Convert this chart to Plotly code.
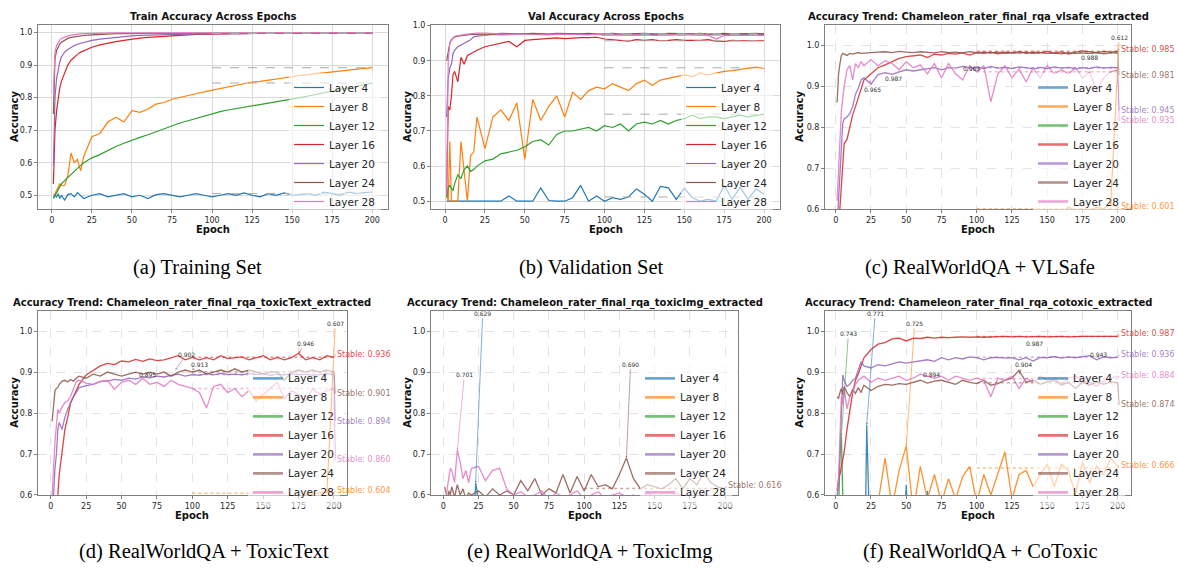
import plotly.graph_objects as go

W, H = 1178, 569

# ---------------- data ----------------
EPOCHS = [1, 2, 3, 4, 5, 6, 8, 10, 12, 14, 16, 18, 20,
          25, 30, 35, 40, 45, 50, 55, 60, 65, 70, 75, 80,
          85, 90, 95, 100, 105, 110, 115, 120, 125, 130, 135, 140,
          145, 150, 155, 160, 165, 170, 175, 180, 185, 190, 195, 200]
SPARSE_EPOCHS = [1, 50, 100, 150, 200]

LAYERS = ["Layer 4", "Layer 8", "Layer 12", "Layer 16", "Layer 20", "Layer 24", "Layer 28"]
COLORS = ["#1f77b4", "#ff7f0e", "#2ca02c", "#d62728", "#9467bd", "#8c564b", "#e377c2"]
X_TICKS = [0, 25, 50, 75, 100, 125, 150, 175, 200]

# (a) training accuracy
TRAIN_L4 = [0.492, 0.500, 0.495, 0.505, 0.490, 0.500, 0.485, 0.502, 0.505, 0.495, 0.508, 0.498, 0.490,
            0.500, 0.505, 0.495, 0.500, 0.505, 0.495,
            0.500, 0.490, 0.502, 0.505, 0.500, 0.495,
            0.500, 0.505, 0.500, 0.495, 0.500, 0.505,
            0.500, 0.507, 0.500, 0.495, 0.505, 0.500,
            0.507, 0.500, 0.502, 0.505, 0.500, 0.510,
            0.505, 0.500, 0.510, 0.505, 0.508, 0.510]
TRAIN_L8 = [0.500, 0.505, 0.515, 0.525, 0.535, 0.530, 0.530, 0.560, 0.630, 0.600, 0.610, 0.575, 0.620,
            0.680, 0.690, 0.725, 0.740, 0.725, 0.760,
            0.755, 0.765, 0.780, 0.785, 0.795, 0.800,
            0.805, 0.812, 0.818, 0.823, 0.828, 0.833,
            0.838, 0.843, 0.848, 0.850, 0.854, 0.858,
            0.861, 0.865, 0.868, 0.871, 0.874, 0.877,
            0.880, 0.883, 0.886, 0.888, 0.890, 0.892]
TRAIN_L12 = [0.490, 0.500, 0.510, 0.520, 0.528, 0.535, 0.545, 0.555, 0.565, 0.575, 0.585, 0.592, 0.600,
             0.615, 0.625, 0.638, 0.650, 0.660, 0.670,
             0.678, 0.686, 0.695, 0.705, 0.714, 0.722,
             0.729, 0.736, 0.743, 0.752, 0.757, 0.762,
             0.766, 0.770, 0.774, 0.778, 0.782, 0.786,
             0.790, 0.795, 0.800, 0.805, 0.810, 0.815,
             0.820, 0.826, 0.831, 0.836, 0.840, 0.845]
TRAIN_L16 = [0.535, 0.700, 0.760, 0.800, 0.830, 0.850, 0.875, 0.900, 0.915, 0.925, 0.933, 0.940, 0.945,
             0.955, 0.962, 0.968, 0.972, 0.976, 0.980,
             0.983, 0.985, 0.987, 0.989, 0.990, 0.992,
             0.993, 0.994, 0.995, 0.996, 0.996, 0.997,
             0.997, 0.997, 0.997, 0.998, 0.998, 0.998,
             0.998, 0.998, 0.998, 0.998, 0.998, 0.998,
             0.998, 0.998, 0.998, 0.998, 0.998, 0.998]
TRAIN_L20 = [0.590, 0.800, 0.860, 0.890, 0.910, 0.925, 0.940, 0.948, 0.955, 0.960, 0.964, 0.967, 0.970,
             0.976, 0.980, 0.983, 0.986, 0.988, 0.990,
             0.991, 0.992, 0.993, 0.994, 0.995, 0.995,
             0.996, 0.996, 0.996, 0.997, 0.997, 0.997,
             0.997, 0.998, 0.998, 0.998, 0.998, 0.998,
             0.998, 0.998, 0.998, 0.998, 0.998, 0.998,
             0.998, 0.998, 0.998, 0.998, 0.998, 0.998]
TRAIN_L24 = [0.750, 0.920, 0.945, 0.958, 0.965, 0.970, 0.977, 0.982, 0.985, 0.987, 0.989, 0.990, 0.991,
             0.993, 0.995, 0.996, 0.997, 0.997, 0.997,
             0.998, 0.998, 0.998, 0.998, 0.998, 0.998,
             0.998, 0.998, 0.998, 0.998, 0.998, 0.998,
             0.998, 0.998, 0.998, 0.998, 0.998, 0.998,
             0.998, 0.998, 0.998, 0.998, 0.998, 0.998,
             0.998, 0.998, 0.998, 0.998, 0.998, 0.998]
TRAIN_L28 = [0.815, 0.940, 0.960, 0.970, 0.977, 0.982, 0.987, 0.990, 0.992, 0.994, 0.995, 0.996, 0.997,
             0.998, 0.998, 0.999, 0.999, 0.999, 0.999,
             0.999, 0.999, 0.999, 0.999, 0.999, 0.999,
             0.999, 0.999, 0.999, 0.999, 0.999, 0.999,
             0.999, 0.999, 0.999, 0.999, 0.999, 0.999,
             0.999, 0.999, 0.999, 0.999, 0.999, 0.999,
             0.999, 0.999, 0.999, 0.999, 0.999, 0.999]
TRAIN_STABLE = [0.505, 0.892, 0.845, 0.998, 0.998, 0.998, 0.999]

# (b) validation accuracy
VAL_L4 = [0.500, 0.500, 0.500, 0.500, 0.500, 0.500, 0.500, 0.500, 0.500, 0.500, 0.500, 0.500, 0.500,
          0.500, 0.500, 0.500, 0.515, 0.500, 0.500,
          0.500, 0.538, 0.502, 0.500, 0.500, 0.510,
          0.545, 0.500, 0.515, 0.500, 0.510, 0.505,
          0.512, 0.535, 0.520, 0.500, 0.542, 0.538,
          0.505, 0.537, 0.510, 0.500, 0.505, 0.500,
          0.545, 0.505, 0.540, 0.505, 0.535, 0.520]
VAL_L8 = [0.520, 0.500, 0.670, 0.500, 0.500, 0.500, 0.500, 0.670, 0.580, 0.500, 0.630, 0.640, 0.740,
          0.650, 0.740, 0.760, 0.730, 0.780, 0.620,
          0.790, 0.730, 0.770, 0.800, 0.740, 0.810,
          0.790, 0.815, 0.825, 0.820, 0.835, 0.825,
          0.815, 0.835, 0.845, 0.830, 0.845, 0.850,
          0.855, 0.860, 0.855, 0.865, 0.860, 0.865,
          0.870, 0.872, 0.875, 0.878, 0.882, 0.878]
VAL_L12 = [0.510, 0.540, 0.545, 0.535, 0.530, 0.550, 0.575, 0.565, 0.590, 0.600, 0.585, 0.590, 0.600,
           0.615, 0.620, 0.635, 0.640, 0.645, 0.655,
           0.670, 0.675, 0.660, 0.690, 0.700, 0.700,
           0.705, 0.710, 0.700, 0.715, 0.710, 0.720,
           0.700, 0.720, 0.725, 0.720, 0.730, 0.720,
           0.730, 0.735, 0.745, 0.735, 0.740, 0.740,
           0.735, 0.740, 0.745, 0.740, 0.745, 0.748]
VAL_L16 = [0.520, 0.770, 0.760, 0.800, 0.860, 0.870, 0.840, 0.910, 0.890, 0.915, 0.920, 0.925, 0.930,
           0.940, 0.945, 0.950, 0.955, 0.940, 0.958,
           0.960, 0.962, 0.963, 0.965, 0.963, 0.965,
           0.966, 0.966, 0.967, 0.962, 0.960, 0.958,
           0.956, 0.960, 0.958, 0.960, 0.957, 0.958,
           0.960, 0.958, 0.957, 0.958, 0.960, 0.956,
           0.955, 0.958, 0.957, 0.958, 0.957, 0.957]
VAL_L20 = [0.740, 0.850, 0.880, 0.890, 0.920, 0.930, 0.940, 0.945, 0.950, 0.955, 0.960, 0.968, 0.970,
           0.972, 0.975, 0.974, 0.975, 0.974, 0.975,
           0.976, 0.975, 0.976, 0.975, 0.976, 0.975,
           0.976, 0.975, 0.976, 0.974, 0.975, 0.974,
           0.975, 0.974, 0.975, 0.974, 0.975, 0.974,
           0.975, 0.974, 0.975, 0.974, 0.975, 0.976,
           0.975, 0.974, 0.976, 0.975, 0.974, 0.975]
VAL_L24 = [0.900, 0.930, 0.950, 0.960, 0.965, 0.968, 0.970, 0.972, 0.972, 0.974, 0.975, 0.975, 0.976,
           0.977, 0.976, 0.978, 0.977, 0.976, 0.977,
           0.978, 0.977, 0.976, 0.978, 0.977, 0.976,
           0.977, 0.978, 0.976, 0.977, 0.978, 0.976,
           0.977, 0.976, 0.978, 0.977, 0.976, 0.978,
           0.977, 0.976, 0.977, 0.978, 0.976, 0.977,
           0.978, 0.976, 0.977, 0.976, 0.978, 0.977]
VAL_L28 = [0.520, 0.900, 0.950, 0.960, 0.965, 0.970, 0.972, 0.974, 0.975, 0.976, 0.977, 0.978, 0.979,
           0.979, 0.977, 0.976, 0.975, 0.976, 0.975,
           0.976, 0.975, 0.974, 0.976, 0.975, 0.974,
           0.975, 0.974, 0.976, 0.973, 0.974, 0.973,
           0.974, 0.973, 0.974, 0.972, 0.973, 0.974,
           0.974, 0.975, 0.974, 0.974, 0.973, 0.962,
           0.972, 0.972, 0.973, 0.972, 0.973, 0.972]
VAL_STABLE = [0.512, 0.880, 0.748, 0.957, 0.975, 0.977, 0.973]

# (c) RealWorldQA + VLSafe
VLSAFE_L4 = [0.500, 0.510, 0.505, 0.515, 0.510]
VLSAFE_L12 = [0.500, 0.520, 0.530, 0.525, 0.530]
VLSAFE_L8 = [0.500, 0.500, 0.510, 0.500, 0.520, 0.510, 0.520, 0.530, 0.520, 0.530, 0.540, 0.530, 0.540,
             0.540, 0.550, 0.540, 0.550, 0.560, 0.550,
             0.560, 0.550, 0.560, 0.570, 0.560, 0.570,
             0.570, 0.580, 0.570, 0.580, 0.580, 0.570,
             0.580, 0.590, 0.580, 0.590, 0.580, 0.590,
             0.590, 0.590, 0.595, 0.590, 0.605, 0.595,
             0.600, 0.595, 0.605, 0.600, 0.612, 0.605]
VLSAFE_L16 = [0.500, 0.550, 0.617, 0.660, 0.720, 0.760, 0.770, 0.800, 0.830, 0.850, 0.870, 0.890, 0.915,
              0.930, 0.945, 0.952, 0.960, 0.968, 0.972,
              0.974, 0.976, 0.970, 0.978, 0.976, 0.980,
              0.978, 0.981, 0.976, 0.982, 0.980, 0.983,
              0.979, 0.983, 0.981, 0.984, 0.980, 0.983,
              0.982, 0.985, 0.980, 0.984, 0.978, 0.983,
              0.986, 0.984, 0.982, 0.985, 0.983, 0.985]
VLSAFE_L20 = [0.560, 0.620, 0.700, 0.760, 0.810, 0.820, 0.825, 0.833, 0.850, 0.880, 0.895, 0.915, 0.920,
              0.905, 0.928, 0.933, 0.929, 0.935, 0.940,
              0.937, 0.940, 0.942, 0.945, 0.940, 0.945,
              0.944, 0.948, 0.945, 0.946, 0.943, 0.948,
              0.944, 0.946, 0.943, 0.947, 0.945, 0.942,
              0.946, 0.943, 0.947, 0.944, 0.946, 0.942,
              0.945, 0.943, 0.947, 0.944, 0.946, 0.945]
VLSAFE_L24 = [0.860, 0.930, 0.955, 0.975, 0.980, 0.978, 0.975, 0.980, 0.978, 0.980, 0.982, 0.980, 0.981,
              0.982, 0.983, 0.984, 0.982, 0.985, 0.983,
              0.982, 0.984, 0.983, 0.981, 0.984, 0.982,
              0.983, 0.981, 0.984, 0.982, 0.983, 0.981,
              0.983, 0.980, 0.982, 0.981, 0.983, 0.980,
              0.982, 0.980, 0.981, 0.979, 0.982, 0.980,
              0.981, 0.980, 0.982, 0.979, 0.981, 0.981]
VLSAFE_L28 = [0.620, 0.700, 0.770, 0.840, 0.870, 0.900, 0.940, 0.950, 0.915, 0.955, 0.945, 0.960, 0.950,
              0.965, 0.950, 0.962, 0.955, 0.940, 0.960,
              0.945, 0.952, 0.930, 0.955, 0.920, 0.955,
              0.930, 0.915, 0.950, 0.935, 0.950, 0.862,
              0.930, 0.950, 0.920, 0.942, 0.910, 0.945,
              0.920, 0.950, 0.930, 0.940, 0.930, 0.945,
              0.920, 0.935, 0.890, 0.920, 0.935, 0.940]
VLSAFE_STABLE = [None, 0.601, None, 0.985, 0.945, 0.981, 0.935]
VLSAFE_LABEL_Y = [None, 0.606, None, 0.990, 0.840, 0.927, 0.815]
VLSAFE_PEAKS = [("0.965", 26, 0.892, 24, 0.915, 6), ("0.987", 41, 0.919, 38, 0.930, 4),
                ("0.963", 96, 0.944, 93, 0.950, 4), ("0.988", 180, 0.970, 178, 0.982, 3),
                ("0.612", 201, 1.019, 195, 0.612, 1)]

# (d) RealWorldQA + ToxicText
TOXTEXT_L4 = [0.500, 0.505, 0.510, 0.505, 0.510]
TOXTEXT_L12 = [0.500, 0.515, 0.520, 0.525, 0.520]
TOXTEXT_L8 = [0.500, 0.500, 0.510, 0.520, 0.510, 0.520, 0.530, 0.520, 0.530, 0.540, 0.530, 0.540, 0.550,
              0.550, 0.560, 0.550, 0.560, 0.570, 0.560,
              0.570, 0.560, 0.570, 0.580, 0.570, 0.580,
              0.580, 0.570, 0.580, 0.590, 0.580, 0.590,
              0.580, 0.590, 0.590, 0.580, 0.590, 0.590,
              0.590, 0.595, 0.590, 0.595, 0.590, 0.595,
              0.595, 0.600, 0.603, 0.605, 0.607, 0.604]
TOXTEXT_L16 = [0.500, 0.520, 0.550, 0.580, 0.600, 0.650, 0.713, 0.760, 0.790, 0.825, 0.840, 0.855, 0.870,
               0.893, 0.905, 0.915, 0.921, 0.918, 0.927,
               0.925, 0.931, 0.926, 0.932, 0.928, 0.930,
               0.935, 0.940, 0.930, 0.936, 0.930, 0.935,
               0.930, 0.940, 0.933, 0.935, 0.937, 0.930,
               0.935, 0.940, 0.930, 0.936, 0.930, 0.935,
               0.946, 0.930, 0.935, 0.930, 0.940, 0.936]
TOXTEXT_L20 = [0.560, 0.600, 0.665, 0.700, 0.760, 0.777, 0.760, 0.790, 0.809, 0.825, 0.840, 0.850, 0.862,
               0.867, 0.870, 0.877, 0.878, 0.882, 0.880,
               0.885, 0.883, 0.888, 0.886, 0.890, 0.888,
               0.892, 0.895, 0.890, 0.894, 0.892, 0.896,
               0.893, 0.897, 0.894, 0.895, 0.893, 0.897,
               0.894, 0.896, 0.892, 0.895, 0.893, 0.896,
               0.893, 0.895, 0.892, 0.894, 0.896, 0.894]
TOXTEXT_L24 = [0.780, 0.830, 0.855, 0.860, 0.862, 0.870, 0.878, 0.880, 0.876, 0.882, 0.878, 0.885, 0.890,
               0.885, 0.895, 0.890, 0.900, 0.895, 0.890,
               0.895, 0.900, 0.895, 0.900, 0.895, 0.900,
               0.890, 0.900, 0.905, 0.900, 0.905, 0.895,
               0.900, 0.905, 0.900, 0.908, 0.900, 0.905,
               0.900, 0.895, 0.900, 0.900, 0.880, 0.900,
               0.905, 0.900, 0.905, 0.900, 0.905, 0.900]
TOXTEXT_L28 = [0.600, 0.680, 0.730, 0.770, 0.809, 0.800, 0.815, 0.825, 0.830, 0.841, 0.860, 0.877, 0.880,
               0.873, 0.870, 0.877, 0.880, 0.858, 0.875,
               0.880, 0.870, 0.885, 0.870, 0.875, 0.865,
               0.880, 0.870, 0.865, 0.860, 0.850, 0.812,
               0.865, 0.870, 0.850, 0.860, 0.840, 0.855,
               0.830, 0.845, 0.860, 0.875, 0.835, 0.855,
               0.845, 0.830, 0.860, 0.845, 0.855, 0.860]
TOXTEXT_STABLE = [None, 0.604, None, 0.936, 0.894, 0.901, 0.860]
TOXTEXT_LABEL_Y = [None, 0.611, None, 0.943, 0.780, 0.847, 0.687]
TOXTEXT_PEAKS = [("0.895", 68, 0.895, 66, 0.890, 6), ("0.902", 96, 0.944, 88, 0.905, 4),
                 ("0.913", 105, 0.919, 100, 0.905, 5), ("0.946", 180, 0.970, 175, 0.946, 3),
                 ("0.607", 201, 1.019, 195, 0.607, 1)]

# (e) RealWorldQA + ToxicImg
TOXIMG_L4_EPOCHS = [1, 22, 23, 24, 25, 200]
TOXIMG_L4 = [0.520, 0.550, 0.629, 0.610, 0.550, 0.520]
TOXIMG_L8 = [0.500, 0.520, 0.530, 0.525, 0.530]
TOXIMG_L12 = [0.500, 0.510, 0.515, 0.520, 0.515]
TOXIMG_L16 = [0.510, 0.530, 0.540, 0.535, 0.540]
TOXIMG_L20 = [0.505, 0.525, 0.535, 0.530, 0.535]
TOXIMG_L24 = [0.620, 0.600, 0.590, 0.610, 0.600, 0.620, 0.595, 0.625, 0.600, 0.615, 0.590, 0.605, 0.600,
              0.610, 0.595, 0.615, 0.600, 0.610, 0.600,
              0.635, 0.610, 0.640, 0.600, 0.615, 0.605,
              0.650, 0.605, 0.645, 0.610, 0.650, 0.620,
              0.625, 0.615, 0.650, 0.690, 0.640, 0.615,
              0.625, 0.620, 0.615, 0.625, 0.640, 0.615,
              0.640, 0.625, 0.655, 0.630, 0.620, 0.615]
TOXIMG_L28 = [0.600, 0.590, 0.620, 0.640, 0.665, 0.660, 0.630, 0.710, 0.680, 0.640, 0.660, 0.630, 0.665,
              0.670, 0.635, 0.660, 0.665, 0.615, 0.600,
              0.608, 0.595, 0.600, 0.610, 0.590, 0.605,
              0.595, 0.600, 0.610, 0.590, 0.600, 0.608,
              0.590, 0.600, 0.605, 0.595, 0.600, 0.590,
              0.605, 0.595, 0.600, 0.590, 0.605, 0.595,
              0.600, 0.590, 0.605, 0.595, 0.600, 0.598]
TOXIMG_STABLE = [None, None, None, None, None, 0.616, None]
TOXIMG_LABEL_Y = [None, None, None, None, None, 0.622, None]
TOXIMG_PEAKS = [("0.701", 15, 0.894, 10, 0.710, 6), ("0.629", 28, 1.044, 23, 0.629, 0),
                ("0.690", 133, 0.919, 130, 0.690, 5)]

# (f) RealWorldQA + CoToxic
COTOX_L4_EPOCHS = [1, 21, 22, 23, 24, 49, 50, 51, 64, 65, 66, 200]
COTOX_L4 = [0.500, 0.520, 0.771, 0.550, 0.520, 0.550, 0.625, 0.550, 0.550, 0.610, 0.550, 0.500]
COTOX_L12_EPOCHS = [1, 2, 3, 4, 5, 6, 200]
COTOX_L12 = [0.500, 0.560, 0.700, 0.743, 0.600, 0.540, 0.500]
COTOX_L8 = [0.500, 0.520, 0.500, 0.530, 0.510, 0.540, 0.520, 0.550, 0.530, 0.560, 0.540, 0.550, 0.570,
            0.560, 0.580, 0.690, 0.570, 0.660, 0.720,
            0.560, 0.670, 0.590, 0.650, 0.580, 0.640,
            0.590, 0.645, 0.670, 0.580, 0.650, 0.600,
            0.650, 0.705, 0.590, 0.650, 0.660, 0.620,
            0.650, 0.675, 0.620, 0.675, 0.660, 0.600,
            0.680, 0.630, 0.670, 0.650, 0.690, 0.670]
COTOX_L16 = [0.610, 0.640, 0.650, 0.670, 0.690, 0.705, 0.760, 0.810, 0.850, 0.880, 0.895, 0.915, 0.935,
             0.955, 0.968, 0.972, 0.981, 0.983, 0.976,
             0.983, 0.982, 0.985, 0.983, 0.985, 0.984,
             0.985, 0.986, 0.985, 0.986, 0.985, 0.986,
             0.986, 0.987, 0.986, 0.987, 0.986, 0.987,
             0.987, 0.986, 0.987, 0.987, 0.986, 0.987,
             0.987, 0.987, 0.987, 0.987, 0.987, 0.987]
COTOX_L20 = [0.600, 0.620, 0.700, 0.790, 0.893, 0.880, 0.865, 0.870, 0.880, 0.885, 0.905, 0.925, 0.915,
             0.910, 0.918, 0.915, 0.920, 0.925, 0.922,
             0.925, 0.928, 0.930, 0.926, 0.935, 0.930,
             0.935, 0.932, 0.937, 0.935, 0.930, 0.935,
             0.936, 0.934, 0.935, 0.930, 0.935, 0.927,
             0.936, 0.935, 0.938, 0.934, 0.937, 0.935,
             0.938, 0.940, 0.930, 0.937, 0.935, 0.936]
COTOX_L24 = [0.840, 0.835, 0.850, 0.860, 0.845, 0.865, 0.850, 0.840, 0.858, 0.848, 0.862, 0.850, 0.868,
             0.855, 0.865, 0.870, 0.868, 0.872, 0.870,
             0.875, 0.880, 0.873, 0.878, 0.880, 0.875,
             0.870, 0.880, 0.875, 0.872, 0.880, 0.868,
             0.872, 0.880, 0.885, 0.904, 0.875, 0.880,
             0.870, 0.876, 0.880, 0.868, 0.875, 0.860,
             0.875, 0.868, 0.876, 0.870, 0.876, 0.874]
COTOX_L28 = [0.610, 0.640, 0.740, 0.840, 0.820, 0.860, 0.810, 0.840, 0.850, 0.870, 0.880, 0.885, 0.890,
             0.875, 0.885, 0.880, 0.885, 0.890, 0.880,
             0.885, 0.895, 0.890, 0.885, 0.890, 0.880,
             0.890, 0.885, 0.880, 0.885, 0.880, 0.840,
             0.885, 0.880, 0.890, 0.860, 0.885, 0.875,
             0.890, 0.880, 0.885, 0.870, 0.885, 0.890,
             0.880, 0.875, 0.865, 0.880, 0.885, 0.890]
COTOX_STABLE = [None, 0.666, None, 0.987, 0.936, 0.874, 0.884]
COTOX_LABEL_Y = [None, 0.672, None, 0.993, 0.943, 0.820, 0.891]
COTOX_PEAKS = [("0.743", 9, 0.994, 4, 0.743, 2), ("0.771", 28, 1.044, 22, 0.771, 0),
               ("0.725", 56, 1.019, 50, 0.720, 1), ("0.894", 68, 0.895, 66, 0.890, 6),
               ("0.904", 133, 0.919, 130, 0.895, 5), ("0.987", 141, 0.970, 138, 0.982, 3),
               ("0.943", 186, 0.944, 184, 0.940, 4)]

for arr in [TRAIN_L4, TRAIN_L8, TRAIN_L12, TRAIN_L16, TRAIN_L20, TRAIN_L24, TRAIN_L28,
            VAL_L4, VAL_L8, VAL_L12, VAL_L16, VAL_L20, VAL_L24, VAL_L28,
            VLSAFE_L8, VLSAFE_L16, VLSAFE_L20, VLSAFE_L24, VLSAFE_L28,
            TOXTEXT_L8, TOXTEXT_L16, TOXTEXT_L20, TOXTEXT_L24, TOXTEXT_L28,
            TOXIMG_L24, TOXIMG_L28, COTOX_L8, COTOX_L16, COTOX_L20, COTOX_L24, COTOX_L28]:
    assert len(arr) == len(EPOCHS), len(arr)

# ---------------- layout description ----------------
S = SPARSE_EPOCHS
E = EPOCHS
PANELS = [
    dict(title="Train Accuracy Across Epochs", caption="(a) Training Set", cap_x=197, cap_y=268,
         series=[TRAIN_L4, TRAIN_L8, TRAIN_L12, TRAIN_L16, TRAIN_L20, TRAIN_L24, TRAIN_L28],
         epochs=[E] * 7, box=(38, 22, 388, 209), xr=[-8.6, 209.8], yr=[0.4576, 1.0242],
         yt=[0.5, 0.6, 0.7, 0.8, 0.9, 1.0], kind="plain", stable=TRAIN_STABLE, leg=(289, 71),
         ytitle_x=15),
    dict(title="Val Accuracy Across Epochs", caption="(b) Validation Set", cap_x=591, cap_y=268,
         series=[VAL_L4, VAL_L8, VAL_L12, VAL_L16, VAL_L20, VAL_L24, VAL_L28],
         epochs=[E] * 7, box=(431, 22, 780, 209), xr=[-8.8, 210.0], yr=[0.4776, 1.0028],
         yt=[0.5, 0.6, 0.7, 0.8, 0.9, 1.0], kind="plain", stable=VAL_STABLE, leg=(681, 71),
         ytitle_x=408),
    dict(title="Accuracy Trend: Chameleon_rater_final_rqa_vlsafe_extracted",
         caption="(c) RealWorldQA + VLSafe", cap_x=980, cap_y=268,
         series=[VLSAFE_L4, VLSAFE_L8, VLSAFE_L12, VLSAFE_L16, VLSAFE_L20, VLSAFE_L24, VLSAFE_L28],
         epochs=[S, E, S, E, E, E, E], box=(825, 22, 1131, 209), xr=[-7.6, 209.4], yr=[0.6, 1.05],
         yt=[0.6, 0.7, 0.8, 0.9, 1.0], kind="trend", stable=VLSAFE_STABLE,
         label_y=VLSAFE_LABEL_Y, peaks=VLSAFE_PEAKS, leg=(1033, 71), ytitle_x=800),
    dict(title="Accuracy Trend: Chameleon_rater_final_rqa_toxicText_extracted",
         caption="(d) RealWorldQA + ToxicText", cap_x=204, cap_y=556,
         series=[TOXTEXT_L4, TOXTEXT_L8, TOXTEXT_L12, TOXTEXT_L16, TOXTEXT_L20, TOXTEXT_L24, TOXTEXT_L28],
         epochs=[S, E, S, E, E, E, E], box=(38, 312, 347, 499), xr=[-9.0, 209.2], yr=[0.6, 1.05],
         yt=[0.6, 0.7, 0.8, 0.9, 1.0], kind="trend", stable=TOXTEXT_STABLE,
         label_y=TOXTEXT_LABEL_Y, peaks=TOXTEXT_PEAKS, leg=(248, 366), ytitle_x=15),
    dict(title="Accuracy Trend: Chameleon_rater_final_rqa_toxicImg_extracted",
         caption="(e) RealWorldQA + ToxicImg", cap_x=590, cap_y=556,
         series=[TOXIMG_L4, TOXIMG_L8, TOXIMG_L12, TOXIMG_L16, TOXIMG_L20, TOXIMG_L24, TOXIMG_L28],
         epochs=[TOXIMG_L4_EPOCHS, S, S, S, S, E, E], box=(431, 312, 738, 499), xr=[-8.7, 209.2],
         yr=[0.6, 1.05], yt=[0.6, 0.7, 0.8, 0.9, 1.0], kind="trend", stable=TOXIMG_STABLE,
         label_y=TOXIMG_LABEL_Y, peaks=TOXIMG_PEAKS, leg=(640, 366), ytitle_x=408),
    dict(title="Accuracy Trend: Chameleon_rater_final_rqa_cotoxic_extracted",
         caption="(f) RealWorldQA + CoToxic", cap_x=980, cap_y=556,
         series=[COTOX_L4, COTOX_L8, COTOX_L12, COTOX_L16, COTOX_L20, COTOX_L24, COTOX_L28],
         epochs=[COTOX_L4_EPOCHS, E, COTOX_L12_EPOCHS, E, E, E, E], box=(825, 312, 1131, 499),
         xr=[-7.6, 209.4], yr=[0.6, 1.05], yt=[0.6, 0.7, 0.8, 0.9, 1.0], kind="trend",
         stable=COTOX_STABLE, label_y=COTOX_LABEL_Y, peaks=COTOX_PEAKS, leg=(1033, 366),
         ytitle_x=800),
]

FONT = "DejaVu Sans"
TXT = "#262626"
fig = go.Figure()
layout = dict(width=W, height=H, margin=dict(l=0, r=0, t=0, b=0),
              paper_bgcolor="white", plot_bgcolor="white", hovermode=False,
              font=dict(family=FONT, color=TXT, size=10))
annotations = []


def rgba(hexc, a):
    h = hexc.lstrip("#")
    return "rgba(%d,%d,%d,%.2f)" % (int(h[0:2], 16), int(h[2:4], 16), int(h[4:6], 16), a)


for i, p in enumerate(PANELS):
    n = i + 1
    xn = "x" if n == 1 else "x%d" % n
    yn = "y" if n == 1 else "y%d" % n
    lg = "legend" if n == 1 else "legend%d" % n
    l, t, r, b = p["box"]
    trend = p["kind"] == "trend"
    grid = dict(showgrid=True, gridcolor="#e3e3e3" if trend else "#d9d9d9", gridwidth=1,
                griddash="dash" if trend else "solid")
    axcommon = dict(showline=True, mirror=True, linecolor="#808080", linewidth=1, zeroline=False,
                    ticks="outside", ticklen=3, tickcolor="#808080",
                    tickfont=dict(family=FONT, size=8, color=TXT), **grid)
    layout["xaxis" if n == 1 else "xaxis%d" % n] = dict(
        domain=[l / W, r / W], range=p["xr"], anchor=yn, tickvals=X_TICKS, **axcommon)
    layout["yaxis" if n == 1 else "yaxis%d" % n] = dict(
        domain=[1 - b / H, 1 - t / H], range=p["yr"], anchor=xn, tickvals=p["yt"], tickformat=".1f",
        **axcommon)

    # data lines
    for j in range(7):
        fig.add_trace(go.Scatter(
            x=p["epochs"][j], y=p["series"][j], mode="lines", name=LAYERS[j],
            line=dict(color=COLORS[j], width=1.2 if not trend else 1.3),
            opacity=1.0 if not trend else 0.85,
            xaxis=xn, yaxis=yn, legend=lg, showlegend=not trend))

    # stable reference lines
    for j in range(7):
        s = p["stable"][j]
        if s is None:
            continue
        fig.add_trace(go.Scatter(
            x=[100, 200], y=[s, s], mode="lines",
            line=dict(color="#aaaaaa" if not trend else COLORS[j], width=1 if not trend else 1.5,
                      dash="dash" if not trend else "dot"),
            opacity=1.0 if not trend else 0.5, xaxis=xn, yaxis=yn, showlegend=False))

    if trend:
        # legend proxies (thicker, translucent)
        for j in range(7):
            fig.add_trace(go.Scatter(
                x=[None], y=[None], mode="lines", name=LAYERS[j],
                line=dict(color=COLORS[j], width=2.6), opacity=0.65,
                xaxis=xn, yaxis=yn, legend=lg, showlegend=True))
        # stable labels
        for j in range(7):
            s = p["stable"][j]
            if s is None:
                continue
            annotations.append(dict(
                x=200, y=s, xref=xn, yref=yn, ax=201, ay=p["label_y"][j], axref=xn, ayref=yn,
                text="Stable: %.3f" % s, showarrow=True, arrowhead=0, arrowwidth=0.7,
                arrowcolor=rgba(COLORS[j], 0.7), xanchor="left", yanchor="middle",
                font=dict(family=FONT, size=8, color=rgba(COLORS[j], 0.85))))
        # peak labels
        for (txt, tx, ty, hx, hy, j) in p["peaks"]:
            annotations.append(dict(
                x=hx, y=hy, xref=xn, yref=yn, ax=tx, ay=ty, axref=xn, ayref=yn,
                text=txt, showarrow=True, arrowhead=2, arrowsize=0.6, arrowwidth=0.7,
                arrowcolor=rgba(COLORS[j], 0.8), xanchor="center", yanchor="middle",
                font=dict(family=FONT, size=6, color="#333")))

    # legend
    lx, ly = p["leg"]
    layout[lg] = dict(x=lx / W, y=1 - ly / H, xanchor="left", yanchor="top",
                      bgcolor="rgba(255,255,255,0.6)", borderwidth=0, itemwidth=30,
                      font=dict(family=FONT, size=10.5, color=TXT), tracegroupgap=0)

    # axis titles
    annotations.append(dict(x=(l + r) / 2 / W, y=1 - (b + 21) / H, xref="paper", yref="paper",
                            text="<b>Epoch</b>", showarrow=False, xanchor="center", yanchor="middle",
                            font=dict(family=FONT, size=10, color="#111")))
    annotations.append(dict(x=p["ytitle_x"] / W, y=1 - (t + b) / 2 / H, xref="paper", yref="paper",
                            text="<b>Accuracy</b>", showarrow=False, textangle=-90,
                            xanchor="center", yanchor="middle",
                            font=dict(family=FONT, size=10, color="#111")))

    # title and caption
    annotations.append(dict(x=(l + r) / 2 / W, y=1 - (t - 8) / H, xref="paper", yref="paper",
                            text="<b>%s</b>" % p["title"], showarrow=False, xanchor="center",
                            yanchor="middle", font=dict(family=FONT, size=10, color="#111")))
    annotations.append(dict(x=p["cap_x"] / W, y=1 - p["cap_y"] / H, xref="paper", yref="paper",
                            text=p["caption"], showarrow=False, xanchor="center", yanchor="middle",
                            font=dict(family="Liberation Serif", size=20.5, color="#000")))

layout["annotations"] = annotations
fig.update_layout(**layout)
fig.write_html("out.html")
